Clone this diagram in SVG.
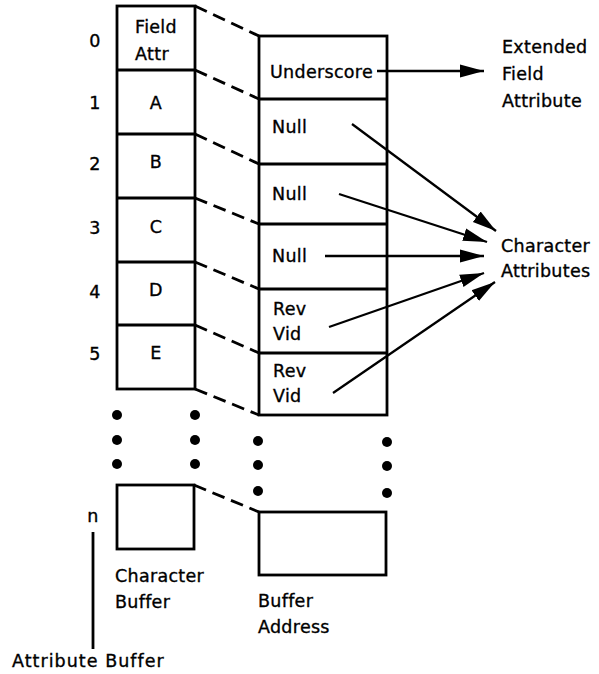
<svg xmlns="http://www.w3.org/2000/svg" width="599" height="674" viewBox="0 0 599 674">
<style>
text{font-family:"DejaVu Sans","Liberation Sans",sans-serif;font-size:17.5px;fill:#000;stroke:#000;stroke-width:0.35;letter-spacing:0.3px}
.c{text-anchor:middle}
.box{fill:none;stroke:#000;stroke-width:2.8}
.dash{fill:none;stroke:#000;stroke-width:2.8;stroke-dasharray:13 7}
.arr{fill:none;stroke:#000;stroke-width:2.3;marker-end:url(#ah)}
</style>
<defs>
<marker id="ah" markerUnits="userSpaceOnUse" markerWidth="26" markerHeight="16" refX="24" refY="8" orient="auto">
<path d="M0,1.5 L24,8 L0,14.5 Z" fill="#000"/>
</marker>
</defs>
<rect width="599" height="674" fill="#fff"/>
<g id="row-labels">
<text x="95" y="47" class="c">0</text>
<text x="95" y="109" class="c">1</text>
<text x="95" y="170" class="c">2</text>
<text x="95" y="234" class="c">3</text>
<text x="95" y="298" class="c">4</text>
<text x="95" y="360" class="c">5</text>
<text x="93" y="522" class="c">n</text>
</g>
<g id="character-buffer">
<rect class="box" x="117" y="6" width="78" height="383"/>
<line class="box" x1="117" y1="70" x2="195" y2="70"/>
<line class="box" x1="117" y1="134" x2="195" y2="134"/>
<line class="box" x1="117" y1="198" x2="195" y2="198"/>
<line class="box" x1="117" y1="262" x2="195" y2="262"/>
<line class="box" x1="117" y1="325" x2="195" y2="325"/>
<text x="156" y="33" class="c">Field</text>
<text x="152" y="60" class="c">Attr</text>
<text x="156" y="109" class="c">A</text>
<text x="156" y="168" class="c">B</text>
<text x="156" y="233" class="c">C</text>
<text x="156" y="296" class="c">D</text>
<text x="156" y="359" class="c">E</text>
</g>
<g id="buffer-address">
<rect class="box" x="259" y="36" width="128" height="379"/>
<line class="box" x1="259" y1="99" x2="387" y2="99"/>
<line class="box" x1="259" y1="164" x2="387" y2="164"/>
<line class="box" x1="259" y1="224" x2="387" y2="224"/>
<line class="box" x1="259" y1="289" x2="387" y2="289"/>
<line class="box" x1="259" y1="353" x2="387" y2="353"/>
<text x="270" y="78">Underscore</text>
<text x="272" y="133">Null</text>
<text x="272" y="200">Null</text>
<text x="272" y="262">Null</text>
<text x="273" y="315">Rev</text>
<text x="273" y="340">Vid</text>
<text x="273" y="377">Rev</text>
<text x="273" y="402">Vid</text>
</g>
<g id="dots" fill="#000">
<circle cx="117" cy="415" r="5"/><circle cx="117" cy="440" r="5"/><circle cx="117" cy="464" r="5"/>
<circle cx="195" cy="415" r="5"/><circle cx="195" cy="440" r="5"/><circle cx="195" cy="464" r="5"/>
<circle cx="258" cy="441" r="5"/><circle cx="258" cy="465" r="5"/><circle cx="258" cy="491" r="5"/>
<circle cx="387" cy="442" r="5"/><circle cx="387" cy="466" r="5"/><circle cx="387" cy="493" r="5"/>
</g>
<g id="char-buffer-n">
<rect class="box" x="117" y="485" width="77" height="64"/>
</g>
<g id="buffer-address-n">
<rect class="box" x="259" y="512" width="127" height="63"/>
</g>
<g id="extended-field-attribute">
<text x="502" y="53">Extended</text>
<text x="502" y="80">Field</text>
<text x="502" y="107">Attribute</text>
</g>
<g id="character-attributes">
<text x="501" y="252">Character</text>
<text x="501" y="277">Attributes</text>
</g>
<g id="captions">
<text x="115" y="582">Character</text>
<text x="115" y="608">Buffer</text>
<text x="258" y="607">Buffer</text>
<text x="258" y="633">Address</text>
<text x="12" y="667" textLength="152">Attribute Buffer</text>
<line x1="93" y1="532" x2="93" y2="649" stroke="#000" stroke-width="2.8"/>
</g>
<g id="connectors">
<line class="dash" x1="195" y1="6" x2="259" y2="36"/>
<line class="dash" x1="195" y1="70" x2="259" y2="99"/>
<line class="dash" x1="195" y1="134" x2="259" y2="164"/>
<line class="dash" x1="195" y1="198" x2="259" y2="224"/>
<line class="dash" x1="195" y1="262" x2="259" y2="289"/>
<line class="dash" x1="195" y1="325" x2="259" y2="353"/>
<line class="dash" x1="195" y1="389" x2="259" y2="415"/>
<line class="dash" x1="194" y1="485" x2="259" y2="512"/>
<line class="arr" x1="377" y1="71" x2="484" y2="71"/>
<line class="arr" x1="352" y1="124" x2="496" y2="231"/>
<line class="arr" x1="339" y1="194" x2="487" y2="242"/>
<line class="arr" x1="325" y1="256" x2="484" y2="256"/>
<line class="arr" x1="329" y1="327" x2="484" y2="273"/>
<line class="arr" x1="333" y1="393" x2="495" y2="282"/>
</g>
</svg>
